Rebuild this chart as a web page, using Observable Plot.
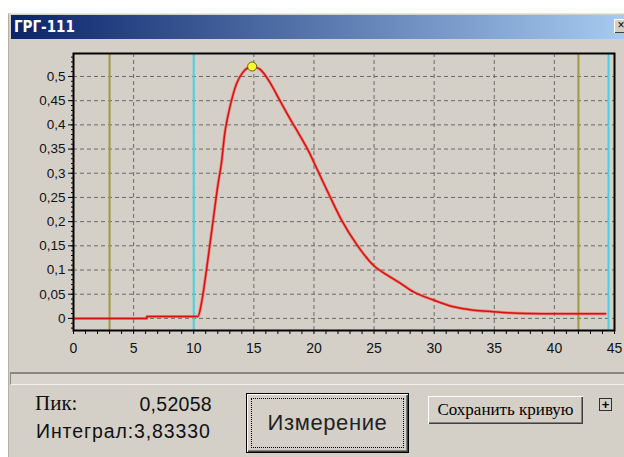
<!DOCTYPE html>
<html>
<head>
<meta charset="utf-8">
<script src="https://cdn.jsdelivr.net/npm/d3@7"></script>
<script src="https://cdn.jsdelivr.net/npm/@observablehq/plot@0.6"></script>
<style>
  html, body { margin: 0; padding: 0; background: #ffffff; width: 624px; height: 457px; overflow: hidden; }
  #win { position: absolute; left: 8px; top: 13px; width: 616px; height: 444px; background: #d4d0c8; border-left: 1px solid #b4b0a8; border-top: 1px solid #e8e6e0; box-sizing: border-box; }
  #titlebar { position: absolute; left: 11px; top: 15px; width: 613px; height: 24px; background: linear-gradient(to right, #0a246a, #a6caf0); }
  #title { position: absolute; left: 3px; top: 3px; color: #fff; font: bold 15px "DejaVu Sans Condensed", "Liberation Sans", sans-serif; letter-spacing: 0px; }
  #close { position: absolute; left: 603px; top: 4px; width: 14px; height: 14px; background: #d4d0c8; box-shadow: inset 1px 1px #fff, inset -1px -1px #404040; font: 12px "Liberation Sans", sans-serif; text-align: center; line-height: 13px; color: #000; }
  #chart { position: absolute; left: 0; top: 40px; }
  #groove { position: absolute; left: 10px; top: 372px; width: 614px; height: 13px; border-top: 2px solid #8a8780; border-left: 1px solid #8a8780; border-bottom: 1px solid #f4f2ee; box-sizing: border-box; background: #d8d5cf; }
  .lbl { position: absolute; color: #111; white-space: nowrap; }
  #pik { left: 35px; top: 391px; font: 21px "Liberation Serif", serif; }
  #pikv { left: 138px; width: 74px; text-align: right; top: 393px; font: 19.5px "Liberation Sans", sans-serif; letter-spacing: 0.3px; }
  #integ { left: 36px; top: 420px; font: 19.5px "Liberation Sans", sans-serif; letter-spacing: 0.9px; }
  .btn { position: absolute; background: #d4d0c8; box-sizing: border-box; text-align: center; color: #000; }
  #meas { left: 246px; top: 393px; width: 163px; height: 60px; border: 1px solid #000; box-shadow: inset 1px 1px #fff, inset -1px -1px #404040, inset -2px -2px #808080; font: 22px "Liberation Sans", sans-serif; letter-spacing: 0.6px; line-height: 58px; color: #222; }
  #focus { position: absolute; left: 4px; top: 4px; right: 4px; bottom: 4px; border: 1px dotted #000; }
  #meas span { position: relative; }
  #save { left: 428px; top: 396px; width: 155px; height: 28px; box-shadow: inset 1px 1px #fff, inset -1px -1px #404040, inset -2px -2px #808080; font: 17px "Liberation Serif", serif; line-height: 27px; }
  #plus { left: 599px; top: 398px; width: 13px; height: 13px; border: 1px solid #303030; font: bold 13px "Liberation Sans", sans-serif; line-height: 11px; }
</style>
</head>
<body>
<div id="win"></div>
<div id="titlebar"><div id="title">ГРГ-111</div><div id="close">×</div></div>
<div id="chart"></div>
<div id="groove"></div>
<div class="lbl" id="pik">Пик:</div>
<div class="lbl" id="pikv">0,52058</div>
<div class="lbl" id="integ">Интеграл:3,83330</div>
<div class="btn" id="meas"><div id="focus"></div><span>Измерение</span></div>
<div class="btn" id="save">Сохранить кривую</div>
<div class="btn" id="plus">+</div>
<script>
// ---- data ----
const timeSec = [0, 6.1, 6.1, 10.35, 10.64, 11.06, 11.6, 12.03, 12.3, 12.58, 12.86, 13.14, 13.56, 14.1, 14.5, 14.86, 15.5, 16.33, 17.17, 18.0, 18.83, 19.67, 20.08, 21.33, 22.3, 23.55, 24.94, 26.06, 27.17, 28.28, 29.94, 31.6, 33.3, 34.94, 36.06, 37.7, 39.9, 44.25];
const signal  = [0, 0, 0.004, 0.004, 0.031, 0.1, 0.2, 0.279, 0.32, 0.382, 0.42, 0.45, 0.485, 0.509, 0.518, 0.52058, 0.515, 0.488, 0.45, 0.413, 0.378, 0.34, 0.318, 0.252, 0.203, 0.153, 0.11, 0.09, 0.073, 0.055, 0.038, 0.024, 0.017, 0.0137, 0.0116, 0.010, 0.0095, 0.0095];
const peakX = [14.86];
const peakY = [0.52058];
const oliveMarkers = [3, 42];
const cyanMarkers = [10, 44.5];
const xTicks = [0, 5, 10, 15, 20, 25, 30, 35, 40, 45];
const yTicks = [0, 0.05, 0.1, 0.15, 0.2, 0.25, 0.3, 0.35, 0.4, 0.45, 0.5];
const yTickLabels = ["0", "0,05", "0,1", "0,15", "0,2", "0,25", "0,3", "0,35", "0,4", "0,45", "0,5"];
const xMinor = d3.range(0, 46, 1);
const yMinor = d3.range(-0.02, 0.545, 0.01);

const curve = timeSec.map((t, i) => ({t, v: signal[i]}));
const peak = peakX.map((t, i) => ({t, v: peakY[i]}));

const grid = {stroke: "#6a6a6a", strokeOpacity: 1, strokeWidth: 1, strokeDasharray: "4,3"};

const chart = Plot.plot({
  width: 624,
  height: 330,
  marginLeft: 73,
  marginRight: 10,
  marginTop: 13,
  marginBottom: 40,
  style: {background: "transparent", fontFamily: "Liberation Sans, Arial, sans-serif", fontSize: "13.5px", color: "#111"},
  x: {domain: [0, 45], label: null},
  y: {domain: [-0.025, 0.5475], label: null},
  marks: [
    Plot.gridX(xTicks.slice(1, -1), grid),
    Plot.gridY(yTicks, grid),
    Plot.ruleX(oliveMarkers, {stroke: "#9c9a3a", strokeWidth: 2}),
    Plot.ruleX(cyanMarkers, {stroke: "#3fd6e0", strokeWidth: 2}),
    Plot.line(curve, {x: "t", y: "v", stroke: "#ff3a30", strokeWidth: 3, strokeOpacity: 0.5, curve: "monotone-x"}),
    Plot.line(curve, {x: "t", y: "v", stroke: "#d81010", strokeWidth: 1.5, curve: "monotone-x"}),
    Plot.dot(peak, {x: "t", y: "v", r: 4.5, fill: "#ffff30", stroke: "#6a6010", strokeWidth: 1}),
    Plot.axisX(xMinor, {tickSize: 4, tickFormat: () => "", stroke: "#000", label: null}),
    Plot.axisX(xTicks, {tickSize: 0, tickPadding: 13, tickFormat: d => String(d), fontSize: 14, label: null}),
    Plot.axisY(yMinor, {tickSize: 2, tickFormat: () => "", stroke: "#000", label: null}),
    Plot.axisY(yTicks, {tickSize: 5, tickPadding: 3, tickFormat: d => yTickLabels[yTicks.indexOf(d)], stroke: "#000", label: null}),
    Plot.frame({stroke: "#000", strokeWidth: 2})
  ]
});
document.getElementById("chart").appendChild(chart);
</script>
</body>
</html>
